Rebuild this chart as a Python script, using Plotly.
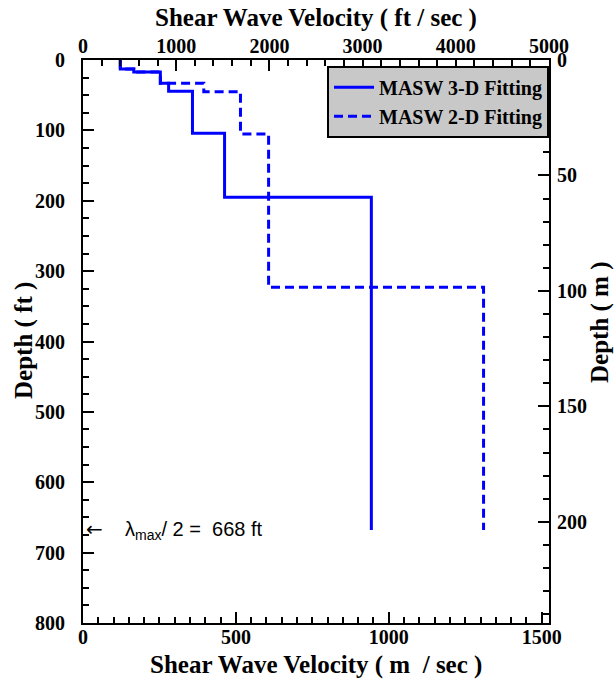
import plotly.graph_objects as go

# Layered shear-wave velocity profiles (velocity in m/s, layer bottom depth in ft)
vs_3d = [122, 166, 253, 280, 358, 463, 943]
bottom_3d = [12.8, 17, 33, 44.5, 104, 195, 668]

vs_2d = [122, 166, 253, 395, 515, 607, 1310]
bottom_2d = [12.8, 17, 33, 45, 105, 323, 668]

half_lambda_ft = 668

FT_PER_M = 3.28084
X_MAX_FTS = 5000
Y_MAX_FT = 800

serif = "Liberation Serif, Times New Roman, Times, serif"
BLUE = "rgb(0,0,255)"

bottom_ticks = [0, 500, 1000, 1500]
top_ticks = [0, 1000, 2000, 3000, 4000, 5000]
left_ticks = list(range(0, 801, 100))
right_ticks = [0, 50, 100, 150, 200]

W, H = 614, 681
ML, MR, MT, MB = 83, 65, 60, 58


def step_xy(vs, bottoms):
    # 'vh' line shape: drop down each layer, then step across to the next velocity
    xs = list(vs) + [vs[-1]]
    ys = [0] + list(bottoms)
    return xs, ys


fig = go.Figure()

x3, y3 = step_xy(vs_3d, bottom_3d)
fig.add_trace(go.Scatter(
    x=x3, y=y3, mode="lines", name="MASW 3-D Fitting",
    line=dict(color=BLUE, width=3, shape="vh"),
))
x2, y2 = step_xy(vs_2d, bottom_2d)
fig.add_trace(go.Scatter(
    x=x2, y=y2, mode="lines", name="MASW 2-D Fitting",
    line=dict(color=BLUE, width=3, shape="vh", dash="9px,5px"),
))
# invisible trace to activate the secondary (ft/s, m) axes
fig.add_trace(go.Scatter(
    x=[0], y=[0], xaxis="x2", yaxis="y2", mode="markers",
    marker=dict(opacity=0), showlegend=False, hoverinfo="skip",
))

tickfont = dict(family=serif, size=20, color="black", weight="bold")
titlefont = dict(family=serif, size=25, color="black", weight="bold")
minor = dict(ticks="inside", ticklen=6, tickcolor="black", tickwidth=1.5, tick0=0)
common = dict(
    showline=True, linewidth=2, linecolor="black",
    ticks="inside", ticklen=11, tickwidth=1.5, tickcolor="black",
    showgrid=False, zeroline=False, tickfont=tickfont, automargin=False,
)

x_max_ms = X_MAX_FTS / FT_PER_M
y_max_m = Y_MAX_FT / FT_PER_M

fig.update_layout(
    width=W, height=H,
    margin=dict(l=ML, r=MR, t=MT, b=MB),
    plot_bgcolor="white", paper_bgcolor="white",
    xaxis=dict(
        range=[0, x_max_ms], tickvals=bottom_ticks,
        minor=dict(dtick=50, **minor), ticklabelstandoff=-5,
        **common,
    ),
    xaxis2=dict(
        range=[0, X_MAX_FTS], overlaying="x", side="top",
        tickvals=top_ticks,
        minor=dict(dtick=200, **minor), ticklabelstandoff=-3,
        **common,
    ),
    yaxis=dict(
        range=[Y_MAX_FT, 0], tickvals=left_ticks,
        minor=dict(dtick=25, **minor), ticklabelstandoff=12,
        **common,
    ),
    yaxis2=dict(
        range=[y_max_m, 0], overlaying="y", side="right",
        tickvals=right_ticks,
        minor=dict(dtick=10, **minor), ticklabelstandoff=2,
        **common,
    ),
    legend=dict(
        x=1, xanchor="right", y=0.99, yanchor="top",
        bgcolor="rgb(200,200,200)", bordercolor="black", borderwidth=2,
        font=dict(family=serif, size=20, color="black", weight="bold"),
        itemwidth=40, tracegroupgap=0,
    ),
    showlegend=True,
)

# axis titles, placed by pixel position relative to the plotting area
pw, ph = W - ML - MR, H - MT - MB
titles = [
    ("Shear Wave Velocity ( ft / sec )", 316, 18, 0),
    ("Shear Wave Velocity ( m  / sec )", 316, 665, 0),
    ("Depth ( ft )", 24, 341, -90),
    ("Depth ( m )", 600, 322, -90),
]
for text, px, py, ang in titles:
    fig.add_annotation(
        x=(px - ML) / pw, y=1 - (py - MT) / ph, xref="paper", yref="paper",
        xanchor="center", yanchor="middle", text=text, textangle=ang,
        showarrow=False, font=titlefont,
    )

NB = "\u00a0"
fig.add_annotation(
    x=0, y=half_lambda_ft, xref="x", yref="y", xanchor="left", yanchor="middle",
    xshift=1,
    text=("<span style='font-family:DejaVu Sans'>←</span>" + NB * 4
          + "λ<sub>max</sub>/ 2 =" + NB * 2 + "%d ft" % half_lambda_ft),
    showarrow=False,
    font=dict(family="Liberation Sans, Arial, sans-serif", size=20, color="black"),
)

fig.write_html("out.html")
